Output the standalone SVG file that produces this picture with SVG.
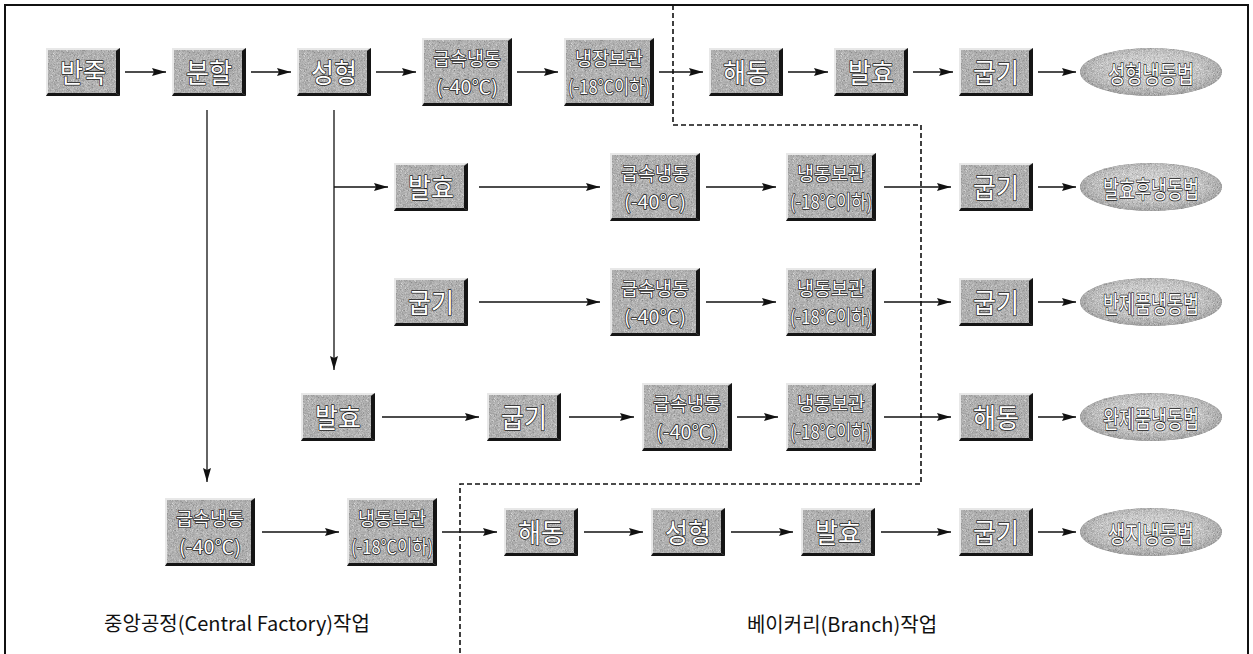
<svg xmlns="http://www.w3.org/2000/svg" xmlns:xlink="http://www.w3.org/1999/xlink" width="1253" height="654" viewBox="0 0 1253 654">
<defs>
<style>
.lbl{font-family:"Noto Sans CJK KR","Noto Sans",sans-serif;fill:#ffffff;stroke:#1a1a1a;stroke-width:1.5px;paint-order:stroke;stroke-linejoin:round;text-anchor:middle;dominant-baseline:central;}
.s{font-size:27px}
.d{font-size:19px}
.e{font-size:24px}
.cap{font-family:"Noto Sans CJK KR","Noto Sans",sans-serif;font-size:20px;fill:#111;text-anchor:middle}
.ln{stroke:#111;stroke-width:1.3;fill:none}
.ar{marker-end:url(#ah)}
.dash{stroke:#111;stroke-width:1.6;stroke-dasharray:5 3;fill:none}
.face{fill:#bcbcbc}
.hi{fill:#e8e8e8}
.sh{fill:#151515}
</style>
<filter id="grain" x="0" y="0" width="1" height="1" color-interpolation-filters="sRGB">
<feTurbulence type="fractalNoise" baseFrequency="2.2" numOctaves="1" seed="7" result="t"/>
<feColorMatrix in="t" type="matrix" values="0.33 0.33 0.33 0 0 0.33 0.33 0.33 0 0 0.33 0.33 0.33 0 0 0 0 0 0 1" result="g"/>
<feComposite in="SourceGraphic" in2="g" operator="arithmetic" k1="0" k2="0.6" k3="0.8" k4="-0.15" result="m"/>
<feComposite in="m" in2="SourceAlpha" operator="in"/>
</filter>
<radialGradient id="eg" cx="0.5" cy="0.45" r="0.55">
<stop offset="0" stop-color="#fafafa"/>
<stop offset="0.65" stop-color="#dcdcdc"/>
<stop offset="1" stop-color="#a4a4a4"/>
</radialGradient>
<marker id="ah" viewBox="0 0 14 8" refX="14" refY="4" markerWidth="14" markerHeight="8" markerUnits="userSpaceOnUse" orient="auto">
<path d="M0,0 L14,4 L0,8 L2,4 z" fill="#111"/>
</marker>
<g id="bs">
<rect class="face" x="0" y="0" width="74" height="48" filter="url(#grain)"/>
<polygon class="hi" points="0,0 74,0 70,2 2,2 2,45 0,48"/>
<polygon class="sh" points="70,3 74,0 74,48 70,45"/>
<polygon class="sh" points="2,45 70,45 74,48 0,48"/>
</g>
<g id="bd">
<rect class="face" x="0" y="0" width="90" height="68" filter="url(#grain)"/>
<polygon class="hi" points="0,0 90,0 86,2 2,2 2,65 0,68"/>
<polygon class="sh" points="86,3 90,0 90,68 86,65"/>
<polygon class="sh" points="2,65 86,65 90,68 0,68"/>
</g>
<g id="el">
<ellipse cx="0" cy="0" rx="71" ry="24" fill="url(#eg)" filter="url(#grain)"/>
</g>
</defs>

<rect x="0" y="0" width="1253" height="654" fill="#ffffff"/>
<rect x="5" y="5" width="1243" height="660" fill="none" stroke="#111" stroke-width="2"/>

<g id="connectors">
<path class="ln ar" d="M125,72 H166"/>
<path class="ln ar" d="M251,72 H291"/>
<path class="ln ar" d="M376,72 H416"/>
<path class="ln ar" d="M517,72 H558"/>
<path class="ln ar" d="M659,72 H703"/>
<path class="ln ar" d="M788,72 H828"/>
<path class="ln ar" d="M913,72 H953"/>
<path class="ln ar" d="M1038,72 H1076"/>
<path class="ln ar" d="M334,110 V370"/>
<path class="ln ar" d="M334,187 H388"/>
<path class="ln ar" d="M207,110 V482"/>
<path class="ln ar" d="M479,187 H600"/>
<path class="ln ar" d="M706,187 H776"/>
<path class="ln ar" d="M884,187 H951"/>
<path class="ln ar" d="M1038,187 H1076"/>
<path class="ln ar" d="M479,302 H600"/>
<path class="ln ar" d="M706,302 H776"/>
<path class="ln ar" d="M884,302 H951"/>
<path class="ln ar" d="M1038,302 H1076"/>
<path class="ln ar" d="M382,417 H479"/>
<path class="ln ar" d="M569,417 H634"/>
<path class="ln ar" d="M737,417 H778"/>
<path class="ln ar" d="M884,417 H951"/>
<path class="ln ar" d="M1038,417 H1076"/>
<path class="ln ar" d="M262,532 H339"/>
<path class="ln ar" d="M442,532 H497"/>
<path class="ln ar" d="M584,532 H643"/>
<path class="ln ar" d="M731,532 H793"/>
<path class="ln ar" d="M881,532 H951"/>
<path class="ln ar" d="M1038,532 H1076"/>
</g>

<g id="boundary">
<path class="dash" d="M673,5 V125 H921 V484 H460 V654"/>
</g>

<g id="r1-banjuk" transform="translate(46,48)"><use href="#bs"/><text class="lbl s" x="37" y="23" textLength="46" lengthAdjust="spacingAndGlyphs">반죽</text></g>
<g id="r1-bunhal" transform="translate(172,48)"><use href="#bs"/><text class="lbl s" x="37" y="23" textLength="46" lengthAdjust="spacingAndGlyphs">분할</text></g>
<g id="r1-seonghyeong" transform="translate(297,48)"><use href="#bs"/><text class="lbl s" x="37" y="23" textLength="46" lengthAdjust="spacingAndGlyphs">성형</text></g>
<g id="r1-geupsok" transform="translate(422,38)"><use href="#bd"/><text class="lbl d" x="45" y="19" textLength="68" lengthAdjust="spacingAndGlyphs">급속냉동</text><text class="lbl d" x="45" y="47" textLength="62" lengthAdjust="spacingAndGlyphs">(-40℃)</text></g>
<g id="r1-naengjang" transform="translate(564,38)"><use href="#bd"/><text class="lbl d" x="45" y="19" textLength="68" lengthAdjust="spacingAndGlyphs">냉장보관</text><text class="lbl d" x="45" y="47" textLength="82" lengthAdjust="spacingAndGlyphs">(-18℃이하)</text></g>
<g id="r1-haedong" transform="translate(709,48)"><use href="#bs"/><text class="lbl s" x="37" y="23" textLength="46" lengthAdjust="spacingAndGlyphs">해동</text></g>
<g id="r1-balhyo" transform="translate(834,48)"><use href="#bs"/><text class="lbl s" x="37" y="23" textLength="46" lengthAdjust="spacingAndGlyphs">발효</text></g>
<g id="r1-gupgi" transform="translate(959,48)"><use href="#bs"/><text class="lbl s" x="37" y="23" textLength="46" lengthAdjust="spacingAndGlyphs">굽기</text></g>
<g id="r1-result" transform="translate(1151,72)"><use href="#el"/><text class="lbl e" x="0" y="0" textLength="86" lengthAdjust="spacingAndGlyphs">성형냉동법</text></g>

<g id="r2-balhyo" transform="translate(394,163)"><use href="#bs"/><text class="lbl s" x="37" y="23" textLength="46" lengthAdjust="spacingAndGlyphs">발효</text></g>
<g id="r2-geupsok" transform="translate(610,153)"><use href="#bd"/><text class="lbl d" x="45" y="19" textLength="68" lengthAdjust="spacingAndGlyphs">급속냉동</text><text class="lbl d" x="45" y="47" textLength="62" lengthAdjust="spacingAndGlyphs">(-40℃)</text></g>
<g id="r2-naengdong" transform="translate(786,153)"><use href="#bd"/><text class="lbl d" x="45" y="19" textLength="68" lengthAdjust="spacingAndGlyphs">냉동보관</text><text class="lbl d" x="45" y="47" textLength="82" lengthAdjust="spacingAndGlyphs">(-18℃이하)</text></g>
<g id="r2-gupgi" transform="translate(959,163)"><use href="#bs"/><text class="lbl s" x="37" y="23" textLength="46" lengthAdjust="spacingAndGlyphs">굽기</text></g>
<g id="r2-result" transform="translate(1151,187)"><use href="#el"/><text class="lbl e" x="0" y="0" textLength="96" lengthAdjust="spacingAndGlyphs">발효후냉동법</text></g>

<g id="r3-gupgi1" transform="translate(394,278)"><use href="#bs"/><text class="lbl s" x="37" y="23" textLength="46" lengthAdjust="spacingAndGlyphs">굽기</text></g>
<g id="r3-geupsok" transform="translate(610,268)"><use href="#bd"/><text class="lbl d" x="45" y="19" textLength="68" lengthAdjust="spacingAndGlyphs">급속냉동</text><text class="lbl d" x="45" y="47" textLength="62" lengthAdjust="spacingAndGlyphs">(-40℃)</text></g>
<g id="r3-naengdong" transform="translate(786,268)"><use href="#bd"/><text class="lbl d" x="45" y="19" textLength="68" lengthAdjust="spacingAndGlyphs">냉동보관</text><text class="lbl d" x="45" y="47" textLength="82" lengthAdjust="spacingAndGlyphs">(-18℃이하)</text></g>
<g id="r3-gupgi2" transform="translate(959,278)"><use href="#bs"/><text class="lbl s" x="37" y="23" textLength="46" lengthAdjust="spacingAndGlyphs">굽기</text></g>
<g id="r3-result" transform="translate(1151,302)"><use href="#el"/><text class="lbl e" x="0" y="0" textLength="96" lengthAdjust="spacingAndGlyphs">반제품냉동법</text></g>

<g id="r4-balhyo" transform="translate(301,393)"><use href="#bs"/><text class="lbl s" x="37" y="23" textLength="46" lengthAdjust="spacingAndGlyphs">발효</text></g>
<g id="r4-gupgi" transform="translate(487,393)"><use href="#bs"/><text class="lbl s" x="37" y="23" textLength="46" lengthAdjust="spacingAndGlyphs">굽기</text></g>
<g id="r4-geupsok" transform="translate(642,383)"><use href="#bd"/><text class="lbl d" x="45" y="19" textLength="68" lengthAdjust="spacingAndGlyphs">급속냉동</text><text class="lbl d" x="45" y="47" textLength="62" lengthAdjust="spacingAndGlyphs">(-40℃)</text></g>
<g id="r4-naengdong" transform="translate(786,383)"><use href="#bd"/><text class="lbl d" x="45" y="19" textLength="68" lengthAdjust="spacingAndGlyphs">냉동보관</text><text class="lbl d" x="45" y="47" textLength="82" lengthAdjust="spacingAndGlyphs">(-18℃이하)</text></g>
<g id="r4-haedong" transform="translate(959,393)"><use href="#bs"/><text class="lbl s" x="37" y="23" textLength="46" lengthAdjust="spacingAndGlyphs">해동</text></g>
<g id="r4-result" transform="translate(1151,417)"><use href="#el"/><text class="lbl e" x="0" y="0" textLength="96" lengthAdjust="spacingAndGlyphs">완제품냉동법</text></g>

<g id="r5-geupsok" transform="translate(165,498)"><use href="#bd"/><text class="lbl d" x="45" y="19" textLength="68" lengthAdjust="spacingAndGlyphs">급속냉동</text><text class="lbl d" x="45" y="47" textLength="62" lengthAdjust="spacingAndGlyphs">(-40℃)</text></g>
<g id="r5-naengdong" transform="translate(347,498)"><use href="#bd"/><text class="lbl d" x="45" y="19" textLength="68" lengthAdjust="spacingAndGlyphs">냉동보관</text><text class="lbl d" x="45" y="47" textLength="82" lengthAdjust="spacingAndGlyphs">(-18℃이하)</text></g>
<g id="r5-haedong" transform="translate(504,508)"><use href="#bs"/><text class="lbl s" x="37" y="23" textLength="46" lengthAdjust="spacingAndGlyphs">해동</text></g>
<g id="r5-seonghyeong" transform="translate(651,508)"><use href="#bs"/><text class="lbl s" x="37" y="23" textLength="46" lengthAdjust="spacingAndGlyphs">성형</text></g>
<g id="r5-balhyo" transform="translate(801,508)"><use href="#bs"/><text class="lbl s" x="37" y="23" textLength="46" lengthAdjust="spacingAndGlyphs">발효</text></g>
<g id="r5-gupgi" transform="translate(959,508)"><use href="#bs"/><text class="lbl s" x="37" y="23" textLength="46" lengthAdjust="spacingAndGlyphs">굽기</text></g>
<g id="r5-result" transform="translate(1151,532)"><use href="#el"/><text class="lbl e" x="0" y="0" textLength="86" lengthAdjust="spacingAndGlyphs">생지냉동법</text></g>

<g id="captions">
<text class="cap" x="237" y="631">중앙공정(Central Factory)작업</text>
<text class="cap" x="842" y="632">베이커리(Branch)작업</text>
</g>
</svg>
